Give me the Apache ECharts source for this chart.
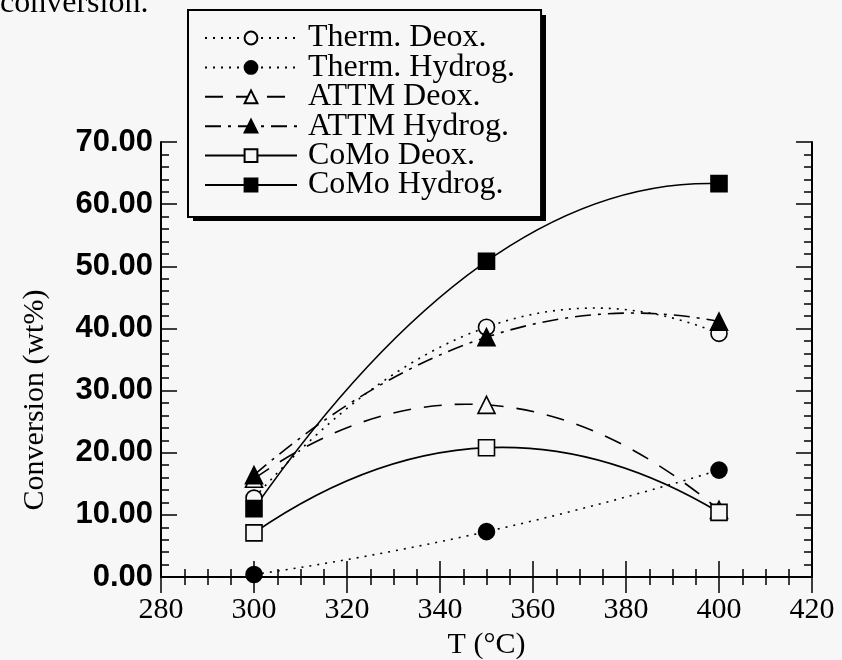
<!DOCTYPE html>
<html>
<head>
<meta charset="utf-8">
<script src="https://cdn.jsdelivr.net/npm/echarts@6/dist/echarts.min.js"></script>
<style>
  html,body{margin:0;padding:0;background:#f7f7f7;}
  #chart{width:842px;height:660px;}
</style>
</head>
<body>
<div id="chart"></div>
<script>
// temperatures (°C)
const temps = [300, 350, 400];
// conversion (wt%)
const thermDeox   = [12.7, 40.2, 39.2];
const thermHydrog = [0.4, 7.3, 17.2];
const attmDeox    = [15.8, 27.7, 10.8];
const attmHydrog  = [16.4, 38.6, 41.1];
const comoDeox    = [7.1, 20.8, 10.4];
const comoHydrog  = [11.0, 50.8, 63.3];

const names  = ['Therm. Deox.','Therm. Hydrog.','ATTM Deox.','ATTM Hydrog.','CoMo Deox.','CoMo Hydrog.'];
const values = [thermDeox, thermHydrog, attmDeox, attmHydrog, comoDeox, comoHydrog];
const marks  = ['circle','circle','triangle','triangle','rect','rect'];
const filled = [false, true, false, true, false, true];
const dashes = [[2,6],[2,6],[18,13],[16,7,3,7],'solid','solid'];

const BG = '#f7f7f7';
const serif = 'Liberation Serif';
const pts = (ys)=>temps.map((t,i)=>[t, ys[i]]);

// fitted curves: quadratic through the three points of each set (drawn as a bezier)
function curveItem(params, api){
  const p0 = api.coord([api.value(0), api.value(1)]);
  const p1 = api.coord([api.value(2), api.value(3)]);
  const p2 = api.coord([api.value(4), api.value(5)]);
  const d = dashes[params.dataIndex];
  return {
    type:'bezierCurve',
    shape:{x1:p0[0], y1:p0[1], x2:p2[0], y2:p2[1],
      cpx1:2*p1[0]-(p0[0]+p2[0])/2, cpy1:2*p1[1]-(p0[1]+p2[1])/2},
    style:{stroke:'#000', fill:null, lineWidth:1.6, lineDash: d==='solid'?null:d}
  };
}

function ser(i){
  return {
    name:names[i], type:'line', data:pts(values[i]),
    symbol:marks[i], symbolSize: marks[i]==='triangle'?17:16,
    lineStyle:{color:'#000', width:1.6, type:dashes[i], opacity:0},
    itemStyle:{color: filled[i]?'#000':BG, borderColor:'#000', borderWidth:1.6},
    emphasis:{disabled:true}, z:3
  };
}

const chart = echarts.init(document.getElementById('chart'));
const tickCommon = (len)=>({show:true, inside:true, length:len, lineStyle:{color:'#000', width:1.5}});
const minorCommon = (n)=>({show:true, splitNumber:n, length:8, lineStyle:{color:'#000', width:1.5}});

chart.setOption({
  backgroundColor: BG,
  animation:false,
  grid:{left:161, top:142, right:30, bottom:83, outerBoundsMode:'none'},
  graphic:[{
    type:'text', left:0, top:-12,
    style:{text:'conversion.', font:'32px "Liberation Serif"', fill:'#000'}
  },{
    type:'text', x:35, y:400, rotation:Math.PI/2,
    style:{text:'Conversion (wt%)', font:'30px "Liberation Serif"', fill:'#000', align:'center', verticalAlign:'middle'}
  },{
    // drop shadow of the legend box
    type:'rect', z:3, shape:{x:193, y:15, width:353, height:206}, style:{fill:'#000'}
  }],
  legend:{
    z:5,
    orient:'vertical', left:188, top:10,
    itemWidth:92, itemHeight:16, itemGap:-2.6,
    padding:[12,26,16,16],
    backgroundColor:BG, borderColor:'#000', borderWidth:2,
    lineStyle:{opacity:1},
    textStyle:{fontFamily:serif, fontSize:32, color:'#000', padding:[0,0,0,6]},
    selectedMode:false,
    data:names
  },
  xAxis:[{
    type:'value', min:280, max:420, interval:20, position:'bottom',
    name:'T (°C)', nameLocation:'middle', nameGap:48,
    nameTextStyle:{fontFamily:serif, fontSize:30, color:'#000'},
    axisLine:{lineStyle:{color:'#000', width:2}},
    axisTick:tickCommon(16), minorTick:minorCommon(4),
    axisLabel:{fontFamily:serif, fontSize:30, color:'#000', margin:18},
    splitLine:{show:false}
  },{
    type:'value', min:280, max:420, interval:20, position:'top',
    axisLine:{lineStyle:{color:'#000', width:2}},
    axisTick:tickCommon(16), minorTick:minorCommon(4),
    axisLabel:{show:false}, splitLine:{show:false}
  }],
  yAxis:[{
    type:'value', min:0, max:70, interval:10, position:'left',
    axisLine:{show:true, lineStyle:{color:'#000', width:2}},
    axisTick:tickCommon(16), minorTick:minorCommon(5),
    axisLabel:{fontFamily:'Liberation Sans', fontWeight:'bold', fontSize:31, color:'#000', margin:8, formatter:v=>v.toFixed(2)},
    splitLine:{show:false}
  },{
    type:'value', min:0, max:70, interval:10, position:'right',
    axisLine:{show:true, lineStyle:{color:'#000', width:2}},
    axisTick:tickCommon(16), minorTick:minorCommon(5),
    axisLabel:{show:false}, splitLine:{show:false}
  }],
  series:[
    {
      name:'curves', type:'custom', renderItem:curveItem, silent:true, z:2,
      encode:{x:[0,2,4], y:[1,3,5]},
      data: values.map(ys=>[temps[0], ys[0], temps[1], ys[1], temps[2], ys[2]])
    },
    ...names.map((n,i)=>ser(i))
  ]
});
</script>
</body>
</html>
